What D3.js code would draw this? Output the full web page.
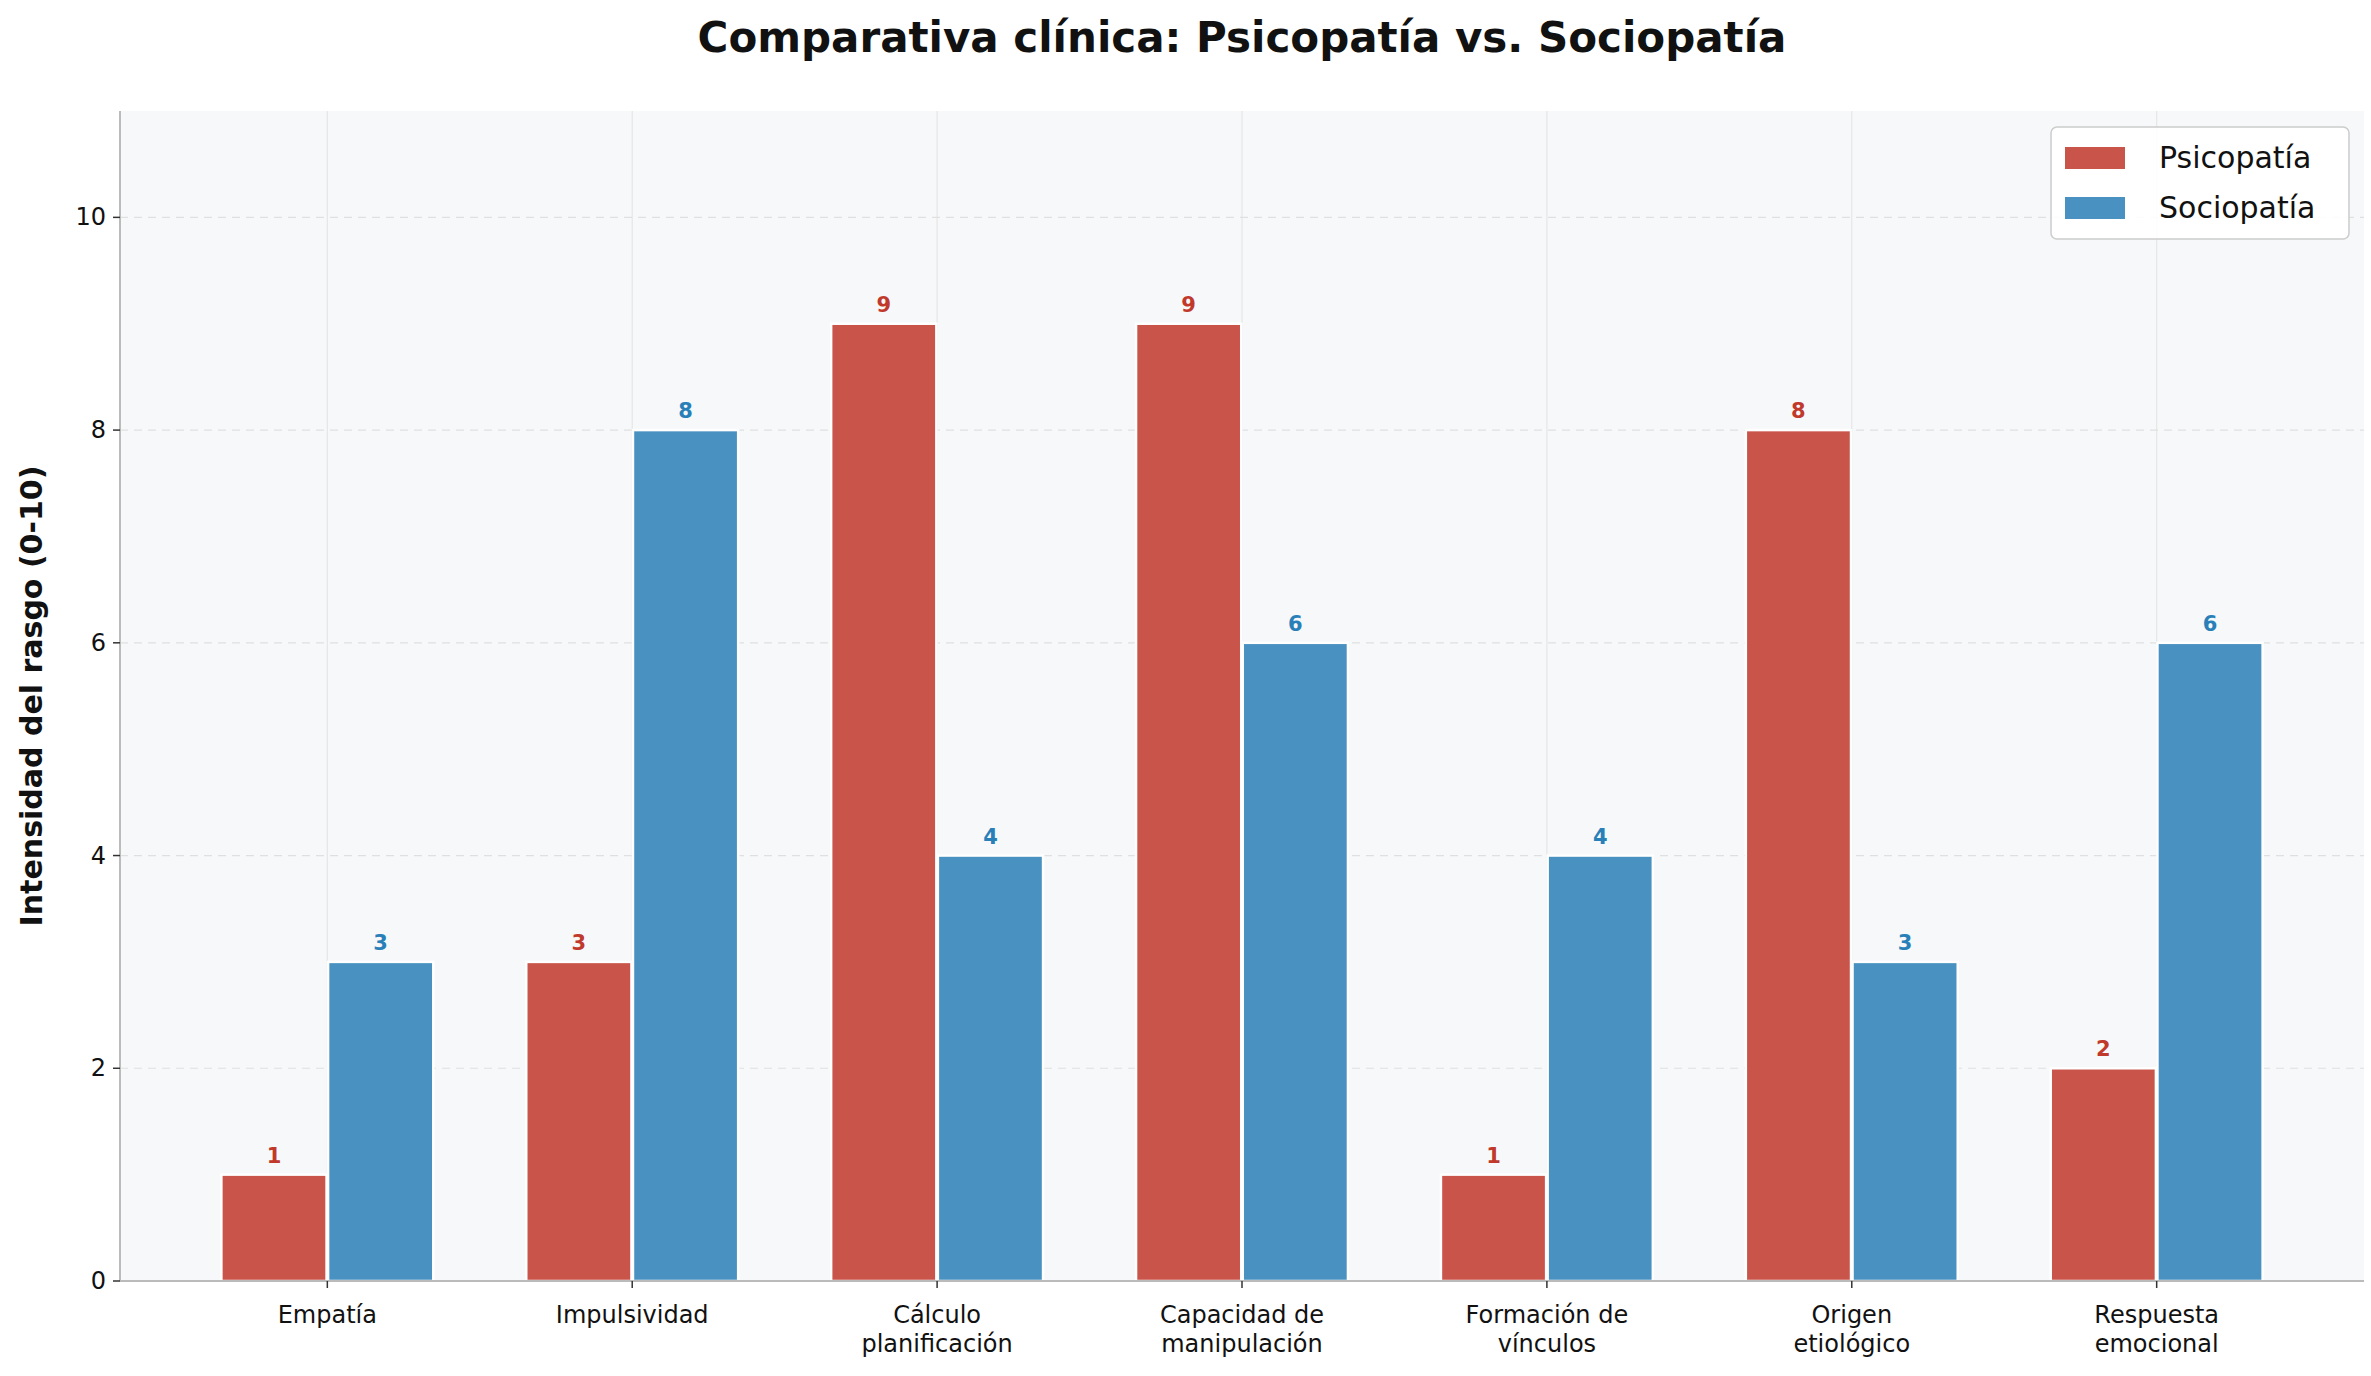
<!DOCTYPE html>
<html><head><meta charset="utf-8">
<script src="https://cdn.jsdelivr.net/npm/d3@7"></script>
<style>body{margin:0;background:#fff}svg{font-family:"DejaVu Sans",sans-serif}</style>
</head><body><svg id="c" width="2371" height="1376"></svg>
<script>
const categories=[["Empatía"],["Impulsividad"],["Cálculo","planificación"],["Capacidad de","manipulación"],["Formación de","vínculos"],["Origen","etiológico"],["Respuesta","emocional"]];
const psicopatia=[1,3,9,9,1,8,2];
const sociopatia=[3,8,4,6,4,3,6];
const yTicks=[0,2,4,6,8,10];
const svg=d3.select("#c");
const L=120,R=2364,T=111,B=1281;
const x=d3.scaleLinear().domain([-0.68,6.68]).range([L,R]);
const y=d3.scaleLinear().domain([0,11]).range([B,T]);
svg.append("rect").attr("x",L).attr("y",T).attr("width",R-L).attr("height",B-T).attr("fill","#f7f8fa");
categories.forEach((c,i)=>svg.append("line").attr("x1",x(i)).attr("x2",x(i)).attr("y1",T).attr("y2",B).attr("stroke","#e6e6e6").attr("stroke-width",1.2));
yTicks.slice(1).forEach(t=>svg.append("line").attr("x1",L).attr("x2",R).attr("y1",y(t)).attr("y2",y(t)).attr("stroke","#e0e0e0").attr("stroke-dasharray","8,6").attr("stroke-width",1.2));
const w=0.345,off=0.175;
const series=[{v:psicopatia,fill:"#c9544a",tc:"#c0392b",o:-off},{v:sociopatia,fill:"#4891c1",tc:"#2980b9",o:off}];
series.forEach(s=>{
  s.v.forEach((v,i)=>{
    svg.append("rect").attr("x",x(i+s.o-w/2)).attr("width",x(w)-x(0)).attr("y",y(v)).attr("height",y(0)-y(v)).attr("fill",s.fill).attr("stroke","#fff").attr("stroke-width",2.5);
    svg.append("text").attr("x",x(i+s.o)).attr("y",y(v)-12).attr("text-anchor","middle").attr("font-size",21).attr("font-weight","bold").attr("fill",s.tc).text(v);
  });
});
// axes
svg.append("line").attr("x1",L).attr("x2",L).attr("y1",T).attr("y2",B).attr("stroke","#bbb").attr("stroke-width",2);
svg.append("line").attr("x1",L).attr("x2",R).attr("y1",B).attr("y2",B).attr("stroke","#bbb").attr("stroke-width",2);
yTicks.forEach(t=>{
  svg.append("line").attr("x1",L-7).attr("x2",L).attr("y1",y(t)).attr("y2",y(t)).attr("stroke","#333").attr("stroke-width",1.5);
  svg.append("text").attr("x",L-14).attr("y",y(t)+8).attr("text-anchor","end").attr("font-size",24).attr("fill","#111").text(t);
});
categories.forEach((c,i)=>{
  svg.append("line").attr("x1",x(i)).attr("x2",x(i)).attr("y1",B).attr("y2",B+7).attr("stroke","#333").attr("stroke-width",1.5);
  c.forEach((l,j)=>svg.append("text").attr("x",x(i)).attr("y",B+42+j*29).attr("text-anchor","middle").attr("font-size",24).attr("fill","#111").text(l));
});
svg.append("text").attr("transform",`translate(42,${(T+B)/2}) rotate(-90)`).attr("text-anchor","middle").attr("font-size",30).attr("font-weight","bold").attr("fill","#111").text("Intensidad del rasgo (0-10)");
svg.append("text").attr("x",(L+R)/2).attr("y",52).attr("text-anchor","middle").attr("font-size",42).attr("font-weight","bold").attr("fill","#111").text("Comparativa clínica: Psicopatía vs. Sociopatía");
// legend
const lg=svg.append("g").attr("transform","translate(2051,127)");
lg.append("rect").attr("width",298).attr("height",112).attr("rx",6).attr("fill","#fff").attr("fill-opacity",0.9).attr("stroke","#ccc").attr("stroke-width",1.5);
[["Psicopatía","#c9544a"],["Sociopatía","#4891c1"]].forEach((d,i)=>{
  lg.append("rect").attr("x",14).attr("y",20+i*50).attr("width",60).attr("height",22).attr("fill",d[1]);
  lg.append("text").attr("x",108).attr("y",41+i*50).attr("font-size",30).attr("fill","#111").text(d[0]);
});
</script></body></html>
